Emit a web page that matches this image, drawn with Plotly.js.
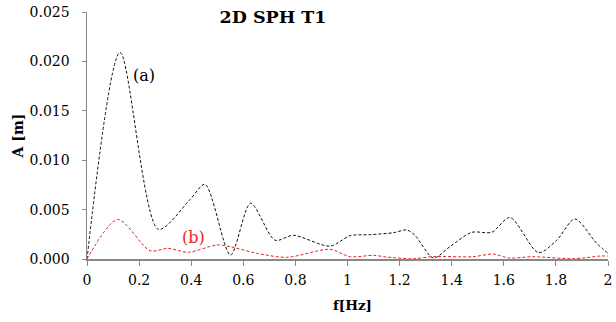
<!DOCTYPE html>
<html><head><meta charset="utf-8">
<script src="https://cdn.plot.ly/plotly-3.0.1.min.js"></script>
<style>html,body{margin:0;padding:0;background:#fff}</style>
</head><body><div id="chart" style="width:616px;height:322px"></div>
<script>
const freqA = [0, 0.127, 0.274, 0.395, 0.453, 0.551, 0.628, 0.722, 0.792, 0.933, 1.01, 1.086, 1.176, 1.227, 1.259, 1.33, 1.393, 1.477, 1.553, 1.624, 1.733, 1.803, 1.873, 1.956, 2.0];
const ampA  = [0, 0.0209, 0.0030, 0.0060, 0.00756, 0.0004, 0.00564, 0.0019, 0.0024, 0.0013, 0.00236, 0.00246, 0.00266, 0.00294, 0.0024, 0.0001, 0.00125, 0.0027, 0.0027, 0.0042, 0.00064, 0.0019, 0.00405, 0.0016, 0.00058];
const freqB = [0, 0.118, 0.242, 0.312, 0.389, 0.498, 0.549, 0.651, 0.767, 0.933, 1.01, 1.1, 1.15, 1.25, 1.33, 1.48, 1.56, 1.62, 1.71, 1.87, 1.97, 2.0];
const ampB  = [0, 0.0040, 0.00084, 0.00108, 0.00068, 0.00142, 0.00125, 0.00058, 0.00017, 0.00098, 0.00023, 0.00037, 0.0002, 0.00002, 0.00025, 0.00023, 0.0005, 0.0001, 0.00023, 0.00003, 0.0003, 0.0003];
const xTicks = [0, 0.2, 0.4, 0.6, 0.8, 1, 1.2, 1.4, 1.6, 1.8, 2];
const yTicks = [0, 0.005, 0.010, 0.015, 0.020, 0.025];
const titleText = "2D SPH T1";
const xTitle = "f[Hz]", yTitle = "A [m]";
const labelA = "(a)", labelB = "(b)";

const serif = "DejaVu Serif";
const data = [
  {x: freqA, y: ampA, mode: "lines", line: {color: "#111", width: 1, dash: "3px,2px", shape: "spline", smoothing: 0.8}, hoverinfo: "skip"},
  {x: freqB, y: ampB, mode: "lines", line: {color: "#e8231e", width: 1, dash: "3px,2px", shape: "spline", smoothing: 0.8}, hoverinfo: "skip"}
];
const layout = {
  width: 616, height: 322,
  margin: {l: 87, r: 8, t: 12, b: 63},
  paper_bgcolor: "#fff", plot_bgcolor: "#fff",
  showlegend: false,
  font: {family: serif, size: 14, color: "#000"},
  title: {text: "<b>" + titleText + "</b>", font: {family: serif, size: 17.5, color: "#000"}, x: 273/616, xanchor: "center", y: 1 - 17/322, yanchor: "middle"},
  xaxis: {
    range: [0, 2], tickvals: xTicks, ticktext: xTicks.map(String),
    showgrid: false, zeroline: false, showline: true, linecolor: "#888", linewidth: 1.5,
    ticks: "outside", ticklen: 5, tickcolor: "#888", tickwidth: 1,
    ticklabelstandoff: 3,
    tickfont: {family: serif, size: 14, color: "#000"}
  },
  yaxis: {
    range: [0, 0.025], tickvals: yTicks, ticktext: yTicks.map(v => v.toFixed(3)),
    showgrid: false, zeroline: false, showline: true, linecolor: "#888", linewidth: 1.5,
    ticks: "outside", ticklen: 4, tickcolor: "#888", tickwidth: 1,
    ticklabelstandoff: 9,
    tickfont: {family: serif, size: 14, color: "#000"},
    title: {text: "<b>" + yTitle + "</b>", font: {family: serif, size: 14, color: "#000"}, standoff: 2}
  },
  annotations: [
    {x: 314/616, y: 0, xref: "paper", yref: "paper", yshift: -46, text: "<b>" + xTitle + "</b>", showarrow: false, yanchor: "middle", font: {family: serif, size: 13.5, color: "#000"}},
    {x: 0.219, y: 0.0186, xref: "x", yref: "y", text: labelA, showarrow: false, font: {family: serif, size: 16, color: "#000"}},
    {x: 0.407, y: 0.00213, xref: "x", yref: "y", text: labelB, showarrow: false, font: {family: serif, size: 16, color: "#e8231e"}}
  ]
};
Plotly.newPlot("chart", data, layout, {staticPlot: true, displayModeBar: false});
</script></body></html>
